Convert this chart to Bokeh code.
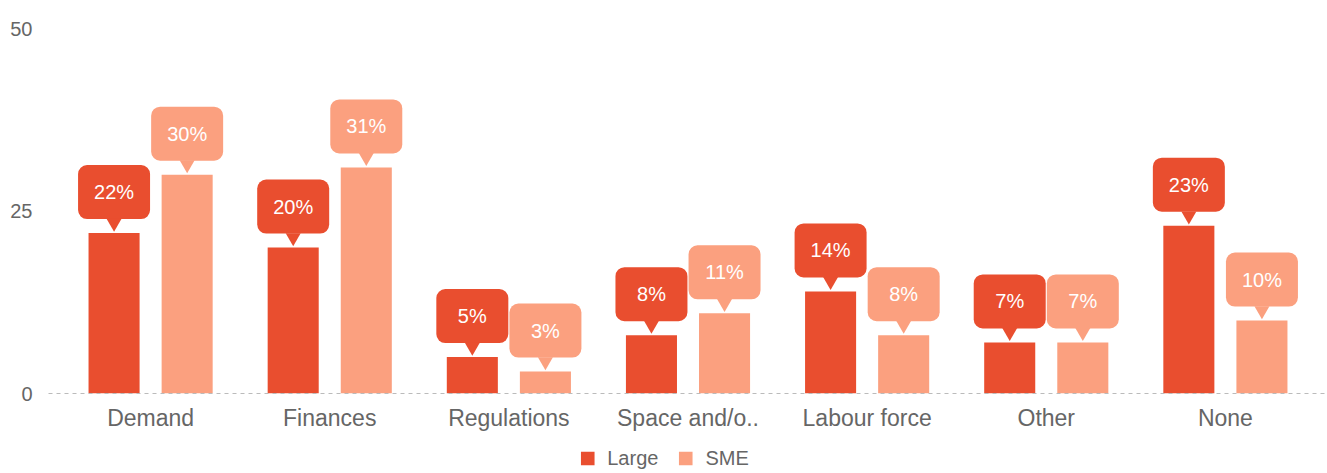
from bokeh.plotting import figure
from bokeh.layouts import column
from bokeh.models import ColumnDataSource, FactorRange, Range1d, Legend, LegendItem, FixedTicker
from bokeh.transform import dodge
from bokeh.core.properties import value
from bokeh.embed import file_html
from bokeh.resources import INLINE

categories = ["Demand", "Finances", "Regulations", "Space and/o..", "Labour force", "Other", "None"]
large = [22, 20, 5, 8, 14, 7, 23]
sme = [30, 31, 3, 11, 8, 7, 10]
y_ticks = [0, 25, 50]
series_names = ["Large", "SME"]

LARGE_C = "#E94E2F"
SME_C = "#FBA07F"
FONT = "Liberation Sans"
GREY = "#666666"

src = ColumnDataSource(dict(
    cat=categories,
    large=large,
    sme=sme,
    large_lbl=[f"{v}%" for v in large],
    sme_lbl=[f"{v}%" for v in sme],
))

FH = 372
p = figure(frame_width=1279, frame_height=FH, output_backend="svg", toolbar_location=None,
           x_range=FactorRange(factors=categories, range_padding=0.07, range_padding_units="absolute"),
           y_range=Range1d(0, 51), min_border_left=48, min_border_right=0,
           min_border_top=21, min_border_bottom=50)
p.outline_line_color = None
p.xgrid.grid_line_color = None
p.ygrid.grid_line_color = None
p.background_fill_color = "white"

bw = 0.285
off = 0.204
p.vbar(x=dodge("cat", -off, range=p.x_range), top="large", width=bw, source=src,
       fill_color=LARGE_C, line_color=None)
p.vbar(x=dodge("cat", off, range=p.x_range), top="sme", width=bw, source=src,
       fill_color=SME_C, line_color=None)

ppu = FH / 51.0  # pixels per unit
for col, lbl, o, c in (("large", "large_lbl", -off, LARGE_C), ("sme", "sme_lbl", off, SME_C)):
    xx = dodge("cat", o, range=p.x_range)
    p.rect(x=xx, y=dodge(col, (14 + 27) / ppu, range=p.y_range), width=72, height=54,
           width_units="screen", height_units="screen", fill_color=c, line_color=None,
           border_radius=9, source=src)
    p.scatter(x=xx, y=dodge(col, 10 / ppu, range=p.y_range), marker="inverted_triangle",
              size=15, fill_color=c, line_color=None, source=src)
    p.text(x=xx, y=col, text=lbl, y_offset=-41, text_align="center", text_baseline="middle",
           text_color="white", text_font=value(FONT), text_font_size="20px", source=src)

p.yaxis.ticker = FixedTicker(ticks=y_ticks)
p.yaxis.axis_line_color = None
p.yaxis.major_tick_line_color = None
p.yaxis.minor_tick_line_color = None
p.yaxis.major_label_text_font = FONT
p.yaxis.major_label_text_font_size = "20px"
p.yaxis.major_label_text_color = GREY
p.yaxis.major_label_standoff = 10

p.xaxis.axis_line_color = "#BBBBBB"
p.xaxis.axis_line_dash = "4 4"
p.xaxis.axis_line_width = 1
p.xaxis.major_tick_line_color = None
p.xaxis.minor_tick_line_color = None
p.xaxis.major_label_text_font = FONT
p.xaxis.major_label_text_font_size = "23px"
p.xaxis.major_label_text_color = GREY
p.xaxis.major_label_standoff = 5

# legend strip below the chart
p2 = figure(frame_width=1327, frame_height=30, output_backend="svg", toolbar_location=None,
            x_range=Range1d(0, 1), y_range=Range1d(0, 1),
            x_axis_location=None, y_axis_location=None,
            min_border_left=0, min_border_right=0, min_border_top=0, min_border_bottom=0)
p2.outline_line_color = None
p2.xgrid.grid_line_color = None
p2.ygrid.grid_line_color = None
# renderers placed outside the visible range: they only provide legend swatches
d_l = p2.vbar(x=[5], top=[1], width=0.1, fill_color=LARGE_C, line_color=None)
d_s = p2.vbar(x=[5], top=[1], width=0.1, fill_color=SME_C, line_color=None)
legend = Legend(items=[LegendItem(label=series_names[0], renderers=[d_l]),
                       LegendItem(label=series_names[1], renderers=[d_s])],
                orientation="horizontal", location="center", border_line_color=None,
                background_fill_alpha=0,
                label_text_font=FONT, label_text_font_size="20px", label_text_color=GREY,
                glyph_width=17, glyph_height=17, spacing=18, padding=2, margin=0,
                label_standoff=12, label_height=20)
p2.add_layout(legend, "center")

open("out.html", "w").write(file_html(column(p, p2, spacing=0), INLINE))
